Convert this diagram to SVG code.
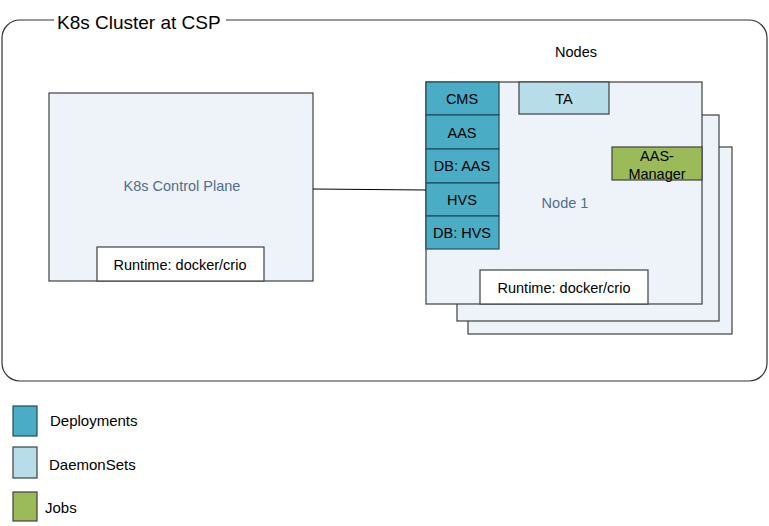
<svg xmlns="http://www.w3.org/2000/svg" width="769" height="526" viewBox="0 0 769 526">
<style>
text{font-family:"Liberation Sans","Noto Sans",Arial,sans-serif;fill:#000}
.box{stroke:#404040;stroke-width:1.2}
.node{fill:#EEF2F9;stroke:#404040;stroke-width:1.2}
.dep{fill:#4BACC6;stroke:#1F4E5F;stroke-width:1.2}
.ds{fill:#B7DDE8;stroke:#404040;stroke-width:1.2}
.job{fill:#9BBB59;stroke:#404040;stroke-width:1.2}
.t{font-size:14.5px;text-anchor:middle}
.l{font-size:15px}
.blue{fill:#4F6E91}
</style>
<g id="cluster">
<rect x="2" y="20" width="765" height="361" rx="18" fill="#fff" stroke="#333" stroke-width="1.2"/>
<rect x="54" y="10" width="172" height="20" fill="#fff"/>
<text x="57" y="29" font-size="19">K8s Cluster at CSP</text>
<text x="576" y="57" class="t">Nodes</text>
</g>
<g id="control-plane">
<rect x="49" y="93" width="264" height="188" class="node"/>
<text x="182" y="191" class="t blue">K8s Control Plane</text>
<rect x="97" y="247" width="167" height="34" fill="#fff" class="box"/>
<text x="180" y="270" class="t">Runtime: docker/crio</text>
</g>
<g id="node3"><rect x="468" y="147" width="264" height="187" class="node"/></g>
<g id="node2"><rect x="457" y="115" width="262" height="206" class="node"/></g>
<g id="node1">
<rect x="426" y="82" width="276" height="222" class="node"/>
<text x="565" y="208" class="t blue">Node 1</text>
</g>
<g id="node1-runtime">
<rect x="480" y="270" width="168" height="34" fill="#fff" class="box"/>
<text x="564" y="293" class="t">Runtime: docker/crio</text>
</g>
<g id="cms"><rect x="426" y="82" width="73" height="33" class="dep"/><text x="462" y="104" class="t">CMS</text></g>
<g id="aas"><rect x="426" y="115" width="73" height="34" class="dep"/><text x="462" y="138" class="t">AAS</text></g>
<g id="db-aas"><rect x="426" y="149" width="73" height="34" class="dep"/><text x="462" y="171" class="t">DB: AAS</text></g>
<g id="hvs"><rect x="426" y="183" width="73" height="33" class="dep"/><text x="462" y="205" class="t">HVS</text></g>
<g id="db-hvs"><rect x="426" y="216" width="73" height="33" class="dep"/><text x="462" y="238" class="t">DB: HVS</text></g>
<g id="ta"><rect x="519" y="82" width="90" height="32" class="ds"/><text x="564" y="104" class="t">TA</text></g>
<g id="aas-manager"><rect x="612" y="147" width="90" height="33" class="job"/><text x="657" y="161" class="t">AAS-</text><text x="657" y="179" class="t">Manager</text></g>
<g id="connectors">
<line x1="313" y1="189" x2="426" y2="190" stroke="#000" stroke-width="1"/>
</g>
<g id="legend">
<rect x="13" y="406" width="24" height="30" class="dep"/>
<text x="50" y="426" class="l">Deployments</text>
<rect x="13" y="447" width="24" height="31" class="ds"/>
<text x="49" y="470" class="l">DaemonSets</text>
<rect x="13" y="492" width="24" height="29" class="job"/>
<text x="45" y="513" class="l">Jobs</text>
</g>
</svg>
